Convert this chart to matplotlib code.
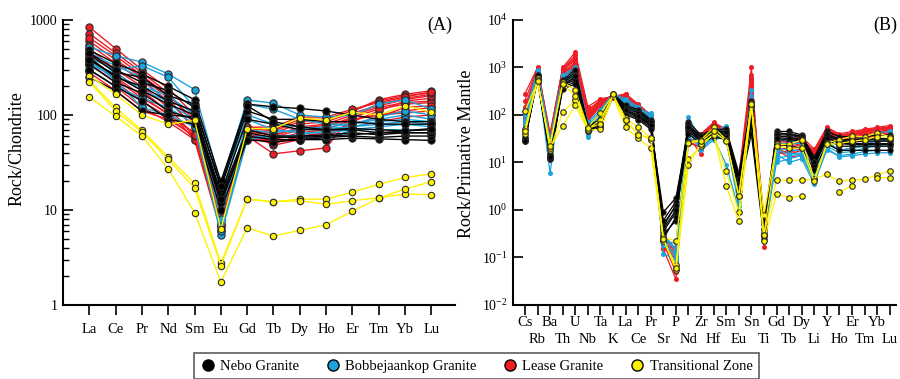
import numpy as np
import matplotlib
matplotlib.use("Agg")
import matplotlib.pyplot as plt
from matplotlib.lines import Line2D
from matplotlib.ticker import LogLocator, NullFormatter, FixedLocator

plt.rcParams['font.family'] = ['Liberation Serif', 'DejaVu Serif']
plt.rcParams['mathtext.fontset'] = 'custom'
plt.rcParams['mathtext.rm'] = 'Liberation Serif'
plt.rcParams['mathtext.it'] = 'Liberation Serif:italic'

nan = np.nan

# ---------------- chondrite-normalised REE ----------------
ree = ["La", "Ce", "Pr", "Nd", "Sm", "Eu", "Gd", "Tb", "Dy", "Ho", "Er", "Tm", "Yb", "Lu"]

nebo_ree = [
    [480, 350, 270, 200, 145, 20, 130, 122, 117, 110, 100, 90, 85, 85],
    [430, 280, 250, 160, 130, 17, 110, 90, 90, 85, 85, 80, 80, 80],
    [400, 250, 200, 140, 110, 15, 90, 80, 70, 70, 70, 65, 65, 65],
    [340, 220, 170, 110, 90, 12, 60, 55, 55, 55, 57, 56, 55, 54],
    [300, 200, 140, 90, 80, 10, 55, 52, 55, 58, 60, 58, 60, 60],
    [250, 180, 110, 100, 95, 14, 70, 60, 60, 62, 65, 62, 65, 65],
    [450, 300, 220, 180, 120, 18, 125, 85, 75, 70, 72, 70, 68, 70],
    [380, 260, 180, 130, 100, 13, 65, 58, 58, 60, 62, 65, 68, 72],
]
bobb_ree = [
    [520, 420, 360, 270, 185, 18, 144, 133, 100, 95, 100, 130, 145, 115],
    [400, 300, 330, 250, 120, 12, 130, 115, 90, 80, 80, 90, 100, 90],
    [350, 250, 200, 160, 100, 8, 90, 70, 65, 65, 70, 75, 80, 75],
    [300, 200, 150, 120, 80, 5.5, 55, 60, 60, 55, 70, 70, 70, 70],
    [450, 330, 250, 130, 90, 10, 70, 65, 70, 75, 80, 95, 110, 100],
    [380, 230, 120, 100, 75, 6, 60, 58, 62, 68, 75, 85, 90, 85],
    [330, 280, 180, 140, 110, 14, 100, 80, 75, 72, 75, 80, 85, 80],
]
lease_ree = [
    [840, 500, 300, 190, 100, 9, 75, 70, 90, 90, 110, 145, 165, 180],
    [720, 450, 280, 170, 80, 8, 70, 60, 75, 80, 100, 130, 150, 165],
    [600, 380, 250, 150, 70, 7, 65, 48, 55, 60, 85, 110, 140, 150],
    [500, 300, 200, 120, 60, 7.5, 60, 39, 42, 45, 100, 120, 135, 140],
    [450, 280, 180, 110, 55, 6.5, 55, 55, 65, 70, 90, 100, 110, 120],
    [400, 250, 160, 100, 65, 8, 68, 65, 80, 85, 105, 125, 145, 160],
    [350, 220, 140, 95, 58, 7, 62, 58, 70, 75, 95, 115, 130, 135],
    [300, 200, 120, 85, 55, 6, 58, 50, 60, 65, 80, 95, 120, 125],
    [280, 180, 110, 90, 60, 9, 72, 68, 85, 90, 110, 140, 160, 170],
    [550, 350, 230, 140, 75, 10, 74, 75, 95, 95, 115, 135, 155, 175],
    [650, 420, 260, 160, 90, 11, 66, 62, 72, 78, 90, 100, 105, 110],
    [380, 240, 150, 105, 62, 7, 60, 52, 58, 62, 75, 85, 95, 100],
]
trans_ree = [
    [260, 165, 100, 80, 88, 6.3, 72, 72, 93, 88, 107, 100, 125, 107],
    [230, 120, 69, 36, 19, 2.75, 13, 12.2, 13, 13, 15.4, 18.6, 22, 24],
    [225, 110, 66, 34, 17, 2.6, 13, 12.2, 12.5, 11.5, 12.5, 13.5, 14.7, 14.5],
    [155, 97, 60, 27, 9.4, 1.75, 6.5, 5.3, 6.1, 7.0, 9.7, 13.3, 16.6, 19.9],
]

# ---------------- primitive-mantle-normalised multi-element ----------------
spider = ["Cs", "Rb", "Ba", "Th", "U", "Nb", "Ta", "K", "La", "Ce", "Pr", "Sr", "P", "Nd",
          "Zr", "Hf", "Sm", "Eu", "Sn", "Ti", "Gd", "Tb", "Dy", "Li", "Y", "Ho", "Er",
          "Tm", "Yb", "Lu"]

nebo_pm = [
    [28, 600, 13, 450, 600, 50, 60, 260, 130, 100, 65, 0.35, 0.9, 55, 30, 40, 40, 3, 60, 0.3, 40, 40, 35, 10, 40, 30, 30, 30, 30, 30],
    [30, 650, 14, 500, 800, 55, 70, 270, 150, 120, 75, 0.5, 1.2, 60, 35, 45, 45, 5, 100, 0.4, 45, 45, 38, 12, 45, 35, 35, 35, 38, 38],
    [32, 550, 12, 380, 500, 45, 55, 250, 120, 90, 60, 0.9, 1.8, 45, 28, 38, 35, 2.5, 40, 0.25, 35, 35, 30, 8, 35, 25, 25, 25, 25, 25],
    [29, 700, 15, 550, 900, 60, 80, 280, 160, 130, 80, 0.3, 0.6, 70, 38, 50, 50, 6, 150, 0.5, 42, 40, 36, 13, 42, 30, 30, 32, 32, 32],
    [35, 620, 13, 420, 550, 48, 65, 255, 110, 85, 55, 0.4, 1.0, 40, 25, 35, 30, 2, 70, 0.35, 30, 30, 28, 9, 30, 22, 22, 22, 22, 22],
    [30, 580, 14, 350, 450, 52, 58, 265, 140, 110, 70, 0.6, 1.5, 65, 32, 42, 42, 4, 200, 0.3, 38, 38, 33, 11, 38, 28, 27, 28, 28, 28],
    [31, 600, 12, 480, 700, 58, 75, 270, 100, 80, 50, 0.25, 0.7, 50, 30, 40, 38, 3.5, 80, 0.4, 25, 22, 20, 7, 25, 18, 18, 18, 18, 18],
    [28, 680, 13, 400, 650, 46, 62, 250, 125, 95, 62, 0.45, 1.3, 55, 36, 48, 44, 4.5, 120, 0.28, 33, 32, 30, 10, 33, 25, 24, 24, 24, 24],
]
bobb_pm = [
    [40, 700, 6, 600, 700, 35, 80, 250, 180, 130, 110, 0.12, 0.09, 90, 30, 45, 60, 2, 330, 0.25, 15, 10, 12, 3.5, 20, 13, 14, 15, 16, 16],
    [80, 800, 25, 650, 900, 60, 120, 260, 200, 140, 90, 0.2, 0.08, 50, 25, 40, 45, 1.5, 200, 0.3, 10, 12, 14, 4, 18, 14, 15, 17, 18, 18],
    [60, 750, 20, 550, 800, 50, 100, 270, 170, 120, 80, 0.25, 0.1, 45, 20, 35, 40, 3, 150, 0.4, 20, 18, 18, 5, 25, 18, 20, 22, 24, 24],
    [100, 900, 30, 700, 1000, 70, 130, 280, 220, 150, 95, 0.18, 0.12, 55, 18, 30, 35, 2.5, 250, 0.35, 25, 25, 25, 8, 35, 25, 28, 35, 42, 45],
    [50, 650, 15, 500, 600, 45, 90, 255, 160, 110, 75, 0.3, 0.15, 40, 28, 42, 50, 4, 100, 0.5, 30, 28, 27, 10, 40, 30, 30, 30, 32, 32],
    [70, 720, 22, 600, 750, 55, 110, 265, 190, 125, 85, 0.22, 0.2, 48, 22, 38, 30, 1.2, 180, 0.3, 18, 15, 16, 6, 28, 18, 20, 25, 28, 30],
    [45, 680, 18, 580, 650, 40, 85, 260, 150, 100, 70, 0.28, 0.14, 35, 20, 33, 9, 1.0, 120, 0.4, 12, 14, 15, 4.5, 22, 16, 17, 20, 22, 24],
]
lease_pm = [
    [280, 1000, 40, 1000, 2100, 150, 220, 240, 280, 170, 100, 0.15, 0.035, 50, 40, 70, 50, 5, 1000, 0.17, 30, 30, 35, 19, 55, 40, 45, 50, 55, 60],
    [150, 900, 35, 900, 1500, 110, 200, 250, 250, 160, 95, 0.2, 0.05, 45, 35, 65, 45, 4, 500, 0.3, 28, 28, 32, 17, 50, 38, 42, 48, 52, 55],
    [100, 850, 30, 850, 1200, 100, 180, 260, 230, 150, 90, 0.25, 0.1, 40, 30, 60, 40, 3, 400, 0.4, 25, 25, 30, 15, 45, 35, 38, 42, 48, 50],
    [80, 800, 28, 950, 1800, 90, 170, 230, 260, 165, 85, 0.18, 0.08, 35, 15, 55, 38, 2.5, 300, 0.5, 20, 15, 18, 12, 40, 30, 35, 40, 45, 48],
    [60, 750, 25, 800, 1000, 80, 160, 270, 200, 140, 80, 0.3, 0.15, 30, 25, 50, 35, 3.5, 250, 0.6, 18, 13, 14, 10, 35, 25, 28, 32, 38, 40],
    [120, 950, 33, 700, 900, 120, 210, 250, 270, 155, 70, 0.22, 0.12, 48, 38, 68, 48, 4.5, 600, 0.25, 26, 22, 25, 18, 52, 36, 40, 45, 50, 52],
    [90, 880, 27, 600, 1100, 75, 150, 240, 210, 145, 65, 0.16, 0.17, 28, 20, 45, 30, 2, 350, 0.7, 15, 18, 22, 11, 38, 28, 32, 36, 40, 42],
    [70, 820, 32, 750, 1300, 95, 190, 265, 240, 150, 75, 0.28, 0.06, 42, 32, 58, 42, 3, 450, 0.35, 22, 24, 28, 14, 46, 32, 36, 40, 44, 46],
    [200, 980, 38, 980, 1600, 130, 200, 255, 220, 160, 88, 0.2, 0.09, 38, 28, 52, 36, 4, 700, 0.45, 24, 26, 30, 16, 48, 34, 38, 44, 50, 54],
    [65, 780, 26, 650, 950, 85, 165, 245, 190, 135, 60, 0.24, 0.07, 25, 22, 48, 28, 2.2, 280, 0.55, 16, 16, 20, 12, 36, 26, 30, 34, 38, 40],
    [110, 920, 36, 880, 1400, 105, 185, 235, 250, 158, 92, 0.19, 0.11, 44, 36, 62, 44, 3.8, 550, 0.3, 27, 27, 31, 15, 50, 36, 40, 46, 52, 56],
    [85, 860, 29, 720, 1150, 92, 175, 258, 205, 148, 70, 0.26, 0.13, 33, 26, 54, 34, 2.8, 380, 0.4, 19, 20, 24, 13, 42, 30, 34, 38, 42, 45],
]
trans_pm = [
    [120, 500, 24, 500, 330, 55, 110, 260, 85, 55, 33, 0.27, 0.22, 27, 30, 55, 30, 2, 180, 0.8, 24, 24, 30, 4.5, 26, 30, 36, 35, 42, 35],
    [50, 600, 18, 115, 210, 50, 80, 250, 75, 40, 30, 0.22, 0.07, 12, 22, 40, 6.5, 0.9, 150, 0.3, 4.3, 4.2, 4.2, 4.5, 5.7, 4.0, 4.3, 4.4, 5.5, 6.6],
    [40, 550, 20, 60, 160, 48, 50, 255, 55, 32, 20, 0.25, 0.055, 9, 25, 38, 3.2, 0.58, 160, 0.22, 2.2, 1.8, 2.0, nan, nan, 2.4, 3.2, nan, 4.8, 4.8],
    [45, 520, 22, 450, 250, 52, 65, 270, 80, 38, 33, 0.25, 0.06, 26, 28, 45, 28, 2, 170, 0.3, 22, 20, 20, 4, 24, 25, 28, 30, 35, 33],
]

group_names = ["Nebo Granite", "Bobbejaankop Granite", "Lease Granite", "Transitional Zone"]
group_colors = ["#000000", "#1ba3dc", "#ee1c24", "#fff200"]
EDGE = "#2a2a2a"

fig = plt.figure(figsize=(9.0, 3.79), dpi=100)
axA = fig.add_axes([0.070, 0.1953, 0.4356, 0.752])
axB = fig.add_axes([0.570, 0.1953, 0.4256, 0.752])


def draw(ax, rows, color, ms, edged, lw):
    x = np.arange(len(rows[0]))
    for r in rows:
        ax.plot(x, r, color=color, lw=lw, marker="o", ms=ms,
                mfc=color, mec=EDGE if edged else color, mew=0.8 if edged else 0,
                zorder=2)


# Panel A
draw(axA, lease_ree, group_colors[2], 5.2, True, 1.0)
draw(axA, bobb_ree, group_colors[1], 5.2, True, 1.0)
draw(axA, nebo_ree, group_colors[0], 5.2, True, 1.0)
draw(axA, trans_ree, group_colors[3], 4.6, True, 1.0)

# Panel B
draw(axB, lease_pm, group_colors[2], 3.6, False, 0.9)
draw(axB, bobb_pm, group_colors[1], 3.6, False, 0.9)
draw(axB, nebo_pm, group_colors[0], 3.8, True, 0.9)
draw(axB, trans_pm, group_colors[3], 4.0, True, 0.9)

for ax in (axA, axB):
    ax.set_yscale("log")
    for s in ("top", "right"):
        ax.spines[s].set_visible(False)
    for s in ("left", "bottom"):
        ax.spines[s].set_linewidth(1.5)

# Axis A formatting
axA.set_ylim(1, 1000)
axA.set_xlim(-1.0, 13.9)
axA.set_xticks(np.arange(len(ree)))
axA.set_xticklabels(ree, fontsize=10.5)
axA.set_yticks([1, 10, 100, 1000])
axA.set_yticklabels(["1", "10", "100", "1000"], fontsize=10)
axA.yaxis.set_minor_locator(LogLocator(base=10, subs=np.arange(2, 10)))
axA.yaxis.set_minor_formatter(NullFormatter())
axA.tick_params(axis="y", which="major", direction="in", length=7, width=1.2, pad=4)
axA.tick_params(axis="y", which="minor", direction="in", length=4, width=1.0)
axA.tick_params(axis="x", which="major", direction="out", length=7, width=1.2, pad=6)
axA.set_ylabel("Rock/Chondrite", fontsize=13)
axA.yaxis.set_label_coords(-0.095, 0.55)
fig.text(440 / 900, 1 - 25 / 379, "(A)", fontsize=13, ha="center", va="center")

# Axis B formatting: labels alternate between two rows
axB.set_ylim(1e-2, 1e4)
axB.set_xlim(-0.95, 29.5)
idx = np.arange(len(spider))
axB.set_xticks(idx[::2])
axB.set_xticklabels(spider[::2], fontsize=10.5)
axB.set_xticks(idx[1::2], minor=True)
axB.set_xticklabels(spider[1::2], minor=True, fontsize=10.5)
axB.set_yticks([1e-2, 1e-1, 1, 10, 100, 1000, 1e4])
axB.set_yticklabels([r"$10^{%d}$" % p for p in range(-2, 5)], fontsize=10)
axB.yaxis.set_minor_locator(FixedLocator([]))
axB.tick_params(axis="y", which="major", direction="in", length=7, width=1.2, pad=4)
axB.tick_params(axis="x", which="major", direction="out", length=7, width=1.2, pad=1)
axB.tick_params(axis="x", which="minor", direction="out", length=7, width=1.2, pad=13)
axB.set_ylabel("Rock/Primative Mantle", fontsize=13)
axB.yaxis.set_label_coords(-0.10, 0.53)
fig.text(885 / 900, 1 - 25 / 379, "(B)", fontsize=13, ha="center", va="center")

# Shared legend
handles = [Line2D([], [], ls="none", marker="o", ms=8, mfc=c, mec="#000000", mew=1.0)
           for c in group_colors]
leg = fig.legend(handles, group_names, loc="upper left", ncol=4,
                 bbox_to_anchor=(194 / 900, 1 - 353 / 379), fontsize=10.5,
                 frameon=True, fancybox=False, edgecolor="#333333",
                 handletextpad=0.35, columnspacing=1.8, borderpad=0.45,
                 handlelength=1.0, borderaxespad=0)
leg.get_frame().set_linewidth(1.2)

fig.savefig("out.png", dpi=100)
